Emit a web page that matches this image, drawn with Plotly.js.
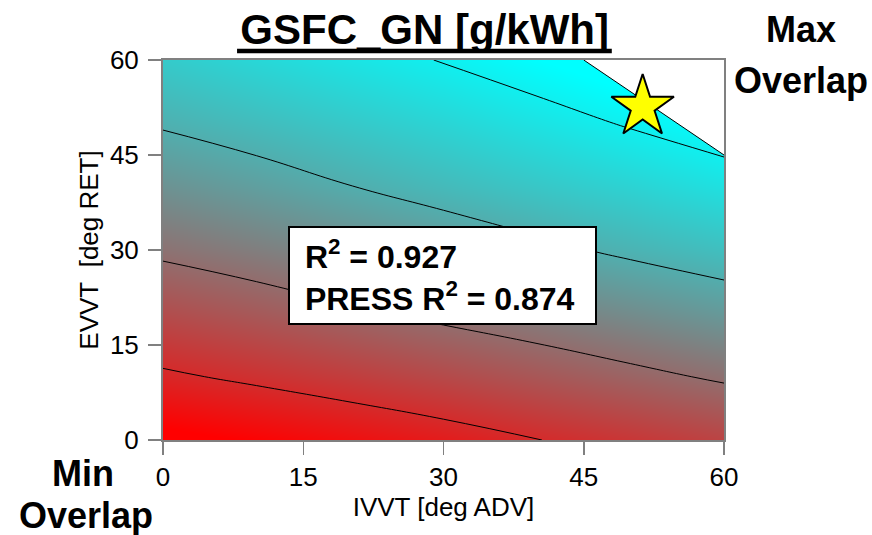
<!DOCTYPE html>
<html><head><meta charset="utf-8">
<script src="https://cdn.plot.ly/plotly-3.0.1.min.js"></script>
<style>html,body{margin:0;padding:0;background:#fff;} #chart{width:872px;height:535px;}</style>
</head><body><div id="chart"></div>
<script>
// Grid (deg)
const ivvt = [0, 10, 20, 30, 40, 50, 60];
const evvt = [0, 10, 20, 30, 40, 50, 60];
// GSFC_GN response in contour-level units (rows = EVVT, cols = IVVT)
const gsfcE0  = [0.21, 0.39, 0.58, 0.77, 0.99, 1.18, 1.38];
const gsfcE10 = [0.92, 1.10, 1.28, 1.47, 1.67, 1.87, 2.07];
const gsfcE20 = [1.53, 1.72, 1.93, 2.12, 2.30, 2.50, 2.70];
const gsfcE30 = [2.10, 2.28, 2.47, 2.68, 2.89, 3.09, 3.27];
const gsfcE40 = [2.58, 2.78, 2.99, 3.19, 3.38, 3.57, 3.78];
const gsfcE50 = [3.05, 3.23, 3.42, 3.61, 3.82, 4.04, 4.25];
const gsfcE60 = [3.44, 3.64, 3.83, 4.02, 4.24, 4.46, 4.69];
// Feasibility margin (deg) for the Max-overlap limit, positive = outside limit
const limIvvt = [0, 30, 60];
const limEvvt = [0, 30, 60];
const limE0  = [-105, -75, -45];
const limE30 = [-75, -45, -15];
const limE60 = [-45, -15, 15];
// Optimum point
const optIvvt = [51.3];
const optEvvt = [52.6];
// Ticks
const tickVals = [0, 15, 30, 45, 60];
const tickText = ['0', '15', '30', '45', '60'];

const FONT = 'Liberation Sans, Arial, Helvetica, sans-serif';

const traces = [
  {
    type: 'contour', x: ivvt, y: evvt,
    z: [gsfcE0, gsfcE10, gsfcE20, gsfcE30, gsfcE40, gsfcE50, gsfcE60],
    zmin: 0.35, zmax: 4.25,
    colorscale: [[0, 'rgb(255,0,0)'], [1, 'rgb(0,255,255)']],
    contours: {coloring: 'heatmap', start: 1, end: 4, size: 1, showlabels: false},
    line: {color: '#000', width: 1, smoothing: 1.3},
    showscale: false, hoverinfo: 'skip'
  },
  {
    type: 'contour', x: limIvvt, y: limEvvt,
    z: [limE0, limE30, limE60],
    contours: {type: 'constraint', operation: '<', value: 0},
    fillcolor: '#ffffff',
    line: {color: '#000', width: 1},
    showscale: false, hoverinfo: 'skip', showlegend: false
  },
  {
    type: 'scatter', mode: 'markers', x: optIvvt, y: optEvvt,
    marker: {symbol: 'star', size: 47, color: '#ffff00', line: {color: '#000', width: 2}},
    hoverinfo: 'skip', showlegend: false, cliponaxis: false
  }
];

const axisCommon = {
  range: [0, 60], tickvals: tickVals, ticktext: tickText,
  ticks: 'outside', ticklen: 13, tickwidth: 1.5, tickcolor: '#808080',
  showline: true, linecolor: '#808080', linewidth: 2, mirror: true,
  showgrid: false, zeroline: false,
  tickfont: {family: FONT, size: 26, color: '#000'}
};

const layout = {
  width: 872, height: 535,
  margin: {l: 163, r: 148, t: 60, b: 95},
  paper_bgcolor: '#fff', plot_bgcolor: '#fff',
  showlegend: false,
  title: {text: '<b>GSFC_GN [g/kWh]</b>', font: {family: FONT, size: 42, color: '#000'},
          x: 0.487, xanchor: 'center', xref: 'container', y: 0.945, yanchor: 'middle', yref: 'container'},
  xaxis: Object.assign({}, axisCommon, {
    title: {text: 'IVVT [deg ADV]', font: {family: FONT, size: 26, color: '#000'}, standoff: 4}
  }),
  yaxis: Object.assign({}, axisCommon, {
    ticklabelstandoff: 4,
    title: {text: 'EVVT&nbsp; [deg RET]', font: {family: FONT, size: 26, color: '#000'}, standoff: 4}
  }),
  shapes: [
    {type: 'line', xref: 'paper', yref: 'paper', x0: 0.132, x1: 0.800, y0: 1.024, y1: 1.024,
     line: {color: '#000', width: 4.5}}
  ],
  annotations: [
    {xref: 'paper', yref: 'paper', x: 0.498, y: 0.433, xanchor: 'center', yanchor: 'middle',
     text: '<b>&nbsp;R<sup>2</sup> = 0.927<br>&nbsp;PRESS R<sup>2</sup> = 0.874</b>', align: 'left',
     width: 293, height: 83,
     showarrow: false, bgcolor: '#fff', bordercolor: '#000', borderwidth: 2, borderpad: 6,
     font: {family: FONT, size: 32, color: '#000'}},
    {xref: 'paper', yref: 'paper', x: 1.137, y: 1.079, xanchor: 'center', yanchor: 'middle',
     text: '<b>Max</b>', showarrow: false, font: {family: FONT, size: 36, color: '#000'}},
    {xref: 'paper', yref: 'paper', x: 1.138, y: 0.947, xanchor: 'center', yanchor: 'middle',
     text: '<b>Overlap</b>', showarrow: false, font: {family: FONT, size: 36, color: '#000'}},
    {xref: 'paper', yref: 'paper', x: -0.143, y: -0.087, xanchor: 'center', yanchor: 'middle',
     text: '<b>Min</b>', showarrow: false, font: {family: FONT, size: 36, color: '#000'}},
    {xref: 'paper', yref: 'paper', x: -0.137, y: -0.198, xanchor: 'center', yanchor: 'middle',
     text: '<b>Overlap</b>', showarrow: false, font: {family: FONT, size: 36, color: '#000'}}
  ]
};

Plotly.newPlot('chart', traces, layout, {displayModeBar: false, staticPlot: true});
</script>
</body></html>
